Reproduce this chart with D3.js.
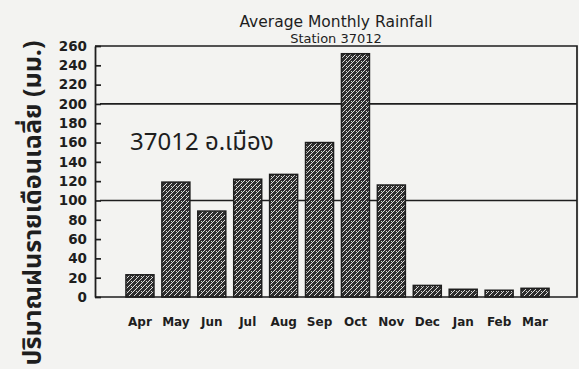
<!DOCTYPE html>
<html>
<head>
<meta charset="utf-8">
<script src="https://cdn.jsdelivr.net/npm/d3@7"></script>
<style>
  html, body { margin: 0; padding: 0; background: #f3f3f1; }
  svg { display: block; }
</style>
</head>
<body>
<svg id="chart" width="579" height="369"></svg>
<script>
// Average monthly rainfall, station 37012 (mm)
const months = ["Apr", "May", "Jun", "Jul", "Aug", "Sep", "Oct", "Nov", "Dec", "Jan", "Feb", "Mar"];
const rainfall = [23, 119, 89, 122, 127, 160, 252, 116, 12, 8, 7, 9];
const yTicks = [0, 20, 40, 60, 80, 100, 120, 140, 160, 180, 200, 220, 240, 260];
const refLines = [100, 200];

const titleText = "Average Monthly Rainfall";
const subtitleText = "Station 37012";
const stationLabel = "37012 อ.เมือง";
const yAxisLabel = "ปริมาณฝนรายเดือนเฉลี่ย (มม.)";

const svg = d3.select("#chart");
const ink = "#1e1e1e";

const plot = { left: 95, right: 577, top: 46, bottom: 297 };

const x = d3.scaleBand()
  .domain(months)
  .range([122, 553])
  .paddingInner(0.22)
  .paddingOuter(0.11);

const y = d3.scaleLinear()
  .domain([0, 260])
  .range([plot.bottom, plot.top]);

// woven cross-hatch fill for the bars
const defs = svg.append("defs");
const pat = defs.append("pattern")
  .attr("id", "weave")
  .attr("patternUnits", "userSpaceOnUse")
  .attr("width", 5).attr("height", 5);
pat.append("rect").attr("width", 5).attr("height", 5).attr("fill", "#2e2e2e");
pat.append("path").attr("d", "M0,5 L5,0 M-1,1 L1,-1 M4,6 L6,4")
  .attr("stroke", "#dedede").attr("stroke-width", 1.0);
pat.append("rect").attr("x", 1).attr("y", 1).attr("width", 1).attr("height", 1).attr("fill", "#d4d4d2");

// reference lines at 100 and 200 mm
svg.append("g").selectAll("line")
  .data(refLines)
  .join("line")
  .attr("x1", plot.left + 5).attr("x2", plot.right)
  .attr("y1", d => y(d)).attr("y2", d => y(d))
  .attr("stroke", ink).attr("stroke-width", 1.6);

// bars
svg.append("g").selectAll("rect")
  .data(months.map((m, i) => ({ m, v: rainfall[i] })))
  .join("rect")
  .attr("x", d => x(d.m))
  .attr("width", x.bandwidth())
  .attr("y", d => y(d.v))
  .attr("height", d => y(0) - y(d.v))
  .attr("fill", "url(#weave)")
  .attr("stroke", ink).attr("stroke-width", 1.5);

// frame: top, right and baseline
svg.append("path")
  .attr("d", `M${plot.left},${plot.top} H${plot.right} V${plot.bottom} H${plot.left}`)
  .attr("fill", "none").attr("stroke", ink).attr("stroke-width", 1.7);

// y axis with inward ticks
const yAxis = d3.axisLeft(y)
  .tickValues(yTicks)
  .tickSizeInner(-6)
  .tickSizeOuter(0)
  .tickPadding(8);
const gy = svg.append("g")
  .attr("transform", `translate(${plot.left},0)`)
  .call(yAxis);
gy.select(".domain").attr("stroke", ink).attr("stroke-width", 1.8);
gy.selectAll(".tick line").attr("stroke", ink).attr("stroke-width", 1.7);
gy.selectAll(".tick text")
  .attr("fill", ink)
  .attr("font-family", "DejaVu Sans, sans-serif")
  .attr("font-weight", "bold")
  .attr("font-size", 13.5);

// x axis month labels
const xAxis = d3.axisBottom(x).tickSize(0).tickPadding(20);
const gx = svg.append("g")
  .attr("transform", `translate(0,${plot.bottom})`)
  .call(xAxis);
gx.select(".domain").remove();
gx.selectAll(".tick text")
  .attr("fill", ink)
  .attr("font-family", "DejaVu Sans, sans-serif")
  .attr("font-weight", "bold")
  .attr("font-size", 12);

// titles
svg.append("text")
  .attr("x", 336).attr("y", 27)
  .attr("text-anchor", "middle")
  .attr("font-family", "DejaVu Sans, sans-serif")
  .attr("font-size", 15.5)
  .attr("fill", ink)
  .text(titleText);
svg.append("text")
  .attr("x", 336).attr("y", 43)
  .attr("text-anchor", "middle")
  .attr("font-family", "DejaVu Sans, sans-serif")
  .attr("font-size", 13)
  .attr("fill", ink)
  .text(subtitleText);

// station annotation inside the plot
svg.append("text")
  .attr("x", 130).attr("y", 150)
  .attr("font-family", "Noto Sans Thai, Noto Sans, DejaVu Sans, sans-serif")
  .attr("font-size", 24)
  .attr("fill", ink)
  .text(stationLabel);

// rotated y-axis title
svg.append("text")
  .attr("transform", "translate(41,203) rotate(-90)")
  .attr("text-anchor", "middle")
  .attr("font-family", "Noto Sans Thai, Noto Sans, DejaVu Sans, sans-serif")
  .attr("font-size", 25)
  .attr("font-weight", "bold")
  .attr("textLength", 325)
  .attr("lengthAdjust", "spacingAndGlyphs")
  .attr("fill", ink)
  .text(yAxisLabel);
</script>
</body>
</html>
